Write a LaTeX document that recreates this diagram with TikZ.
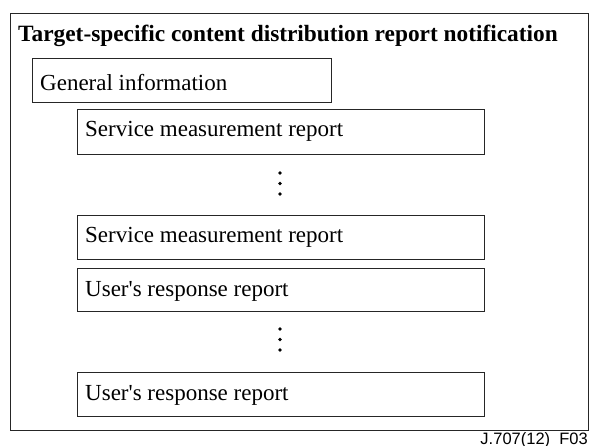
\documentclass[tikz,border=0pt]{standalone}
\usepackage{fontspec}
\setmainfont{Liberation Serif}[Ligatures=TeXOff]
\newfontfamily\labelfont{Liberation Sans}
\begin{document}
\begin{tikzpicture}[x=1pt,y=-1pt,
  frame/.style={draw=black!85,line width=1.4pt},
  box/.style={draw=black!85,line width=1.2pt,anchor=north west,inner sep=0pt},
  txt/.style={anchor=base west,inner sep=0pt,font=\fontsize{23}{26}\selectfont},
  dotmark/.style={circle,fill=black,inner sep=0pt,minimum size=3.8pt}]
\useasboundingbox (0,0) rectangle (591,446);
% outer frame
\node[box,line width=1.4pt,minimum width=578pt,minimum height=417pt] (outer) at (10,13) {};
\node[txt,font=\bfseries\fontsize{23.35}{26}\selectfont] (title) at (18,42) {Target-specific content distribution report notification};
% general information
\node[box,minimum width=299pt,minimum height=44pt] (gen) at (32,58) {};
\node[txt] (gent) at (40,91) {General information};
% report boxes
\node[box,minimum width=407pt,minimum height=45pt] (s1) at (77,109) {};
\node[txt] (s1t) at (85,137) {Service measurement report};
\node[box,minimum width=407pt,minimum height=44pt] (s2) at (77,215) {};
\node[txt] (s2t) at (85,243) {Service measurement report};
\node[box,minimum width=407pt,minimum height=43pt] (u1) at (77,268) {};
\node[txt] (u1t) at (85,296) {User's response report};
\node[box,minimum width=407pt,minimum height=44pt] (u2) at (77,372) {};
\node[txt] (u2t) at (85,400) {User's response report};
% ellipsis dots
\foreach \y [count=\i] in {173,183.5,194} \node[dotmark] (da\i) at (280,\y) {};
\foreach \y [count=\i] in {329,339.5,350} \node[dotmark] (db\i) at (280,\y) {};
% figure id
\node[anchor=base east,inner sep=0pt,font=\labelfont\fontsize{16.5}{18}\selectfont] (fid) at (588,444) {J.707(12)\_F03};
\end{tikzpicture}
\end{document}
